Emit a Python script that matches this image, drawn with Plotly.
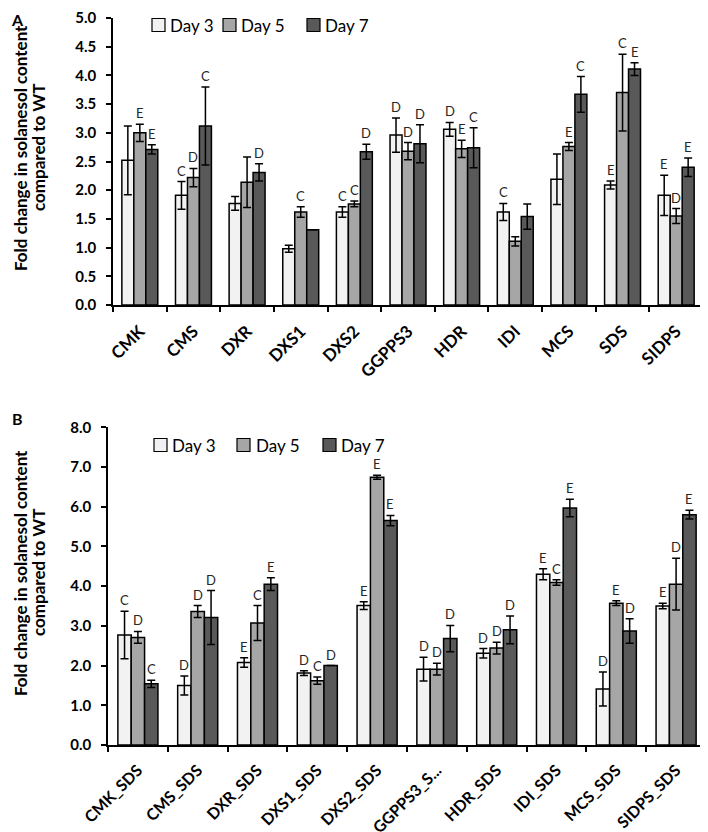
import plotly.graph_objects as go

# ---------------- Data ----------------
series_names = ["Day 3", "Day 5", "Day 7"]
series_colors = ["#F2F2F2", "#A6A6A6", "#595959"]

cats_a = ["CMK", "CMS", "DXR", "DXS1", "DXS2", "GGPPS3", "HDR", "IDI", "MCS", "SDS", "SIDPS"]
day3_a = [2.52, 1.91, 1.77, 0.98, 1.62, 2.96, 3.06, 1.62, 2.19, 2.09, 1.91]
day5_a = [3.00, 2.22, 2.14, 1.62, 1.76, 2.68, 2.72, 1.11, 2.76, 3.70, 1.55]
day7_a = [2.71, 3.12, 2.31, 1.31, 2.67, 2.81, 2.74, 1.54, 3.67, 4.11, 2.40]
err3_a = [0.60, 0.24, 0.12, 0.06, 0.09, 0.30, 0.12, 0.15, 0.44, 0.07, 0.35]
err5_a = [0.15, 0.16, 0.44, 0.09, 0.05, 0.15, 0.15, 0.08, 0.07, 0.67, 0.13]
err7_a = [0.08, 0.68, 0.15, 0.00, 0.13, 0.33, 0.35, 0.22, 0.31, 0.11, 0.16]
lab3_a = ["", "C", "", "", "C", "D", "D", "C", "", "E", "E"]
lab5_a = ["E", "D", "", "C", "C", "D", "E", "", "E", "C", "D"]
lab7_a = ["E", "C", "D", "", "D", "D", "C", "", "C", "E", "E"]

cats_b = ["CMK_SDS", "CMS_SDS", "DXR_SDS", "DXS1_SDS", "DXS2_SDS", "GGPPS3_S...",
          "HDR_SDS", "IDI_SDS", "MCS_SDS", "SIDPS_SDS"]
day3_b = [2.77, 1.50, 2.08, 1.81, 3.51, 1.91, 2.31, 4.30, 1.41, 3.50]
day5_b = [2.71, 3.36, 3.07, 1.62, 6.74, 1.91, 2.44, 4.09, 3.57, 4.05]
day7_b = [1.54, 3.21, 4.05, 2.00, 5.65, 2.68, 2.90, 5.97, 2.87, 5.80]
err3_b = [0.60, 0.24, 0.12, 0.06, 0.10, 0.30, 0.12, 0.14, 0.43, 0.07]
err5_b = [0.15, 0.15, 0.44, 0.09, 0.05, 0.15, 0.15, 0.07, 0.06, 0.65]
err7_b = [0.09, 0.68, 0.16, 0.00, 0.13, 0.33, 0.35, 0.22, 0.31, 0.11]
lab3_b = ["C", "D", "E", "D", "E", "D", "D", "E", "D", "E"]
lab5_b = ["D", "D", "C", "C", "E", "D", "D", "C", "E", "D"]
lab7_b = ["C", "D", "E", "D", "E", "D", "D", "E", "D", "E"]

yticks_a = [0, 0.5, 1, 1.5, 2, 2.5, 3, 3.5, 4, 4.5, 5]
yticks_b = [0, 1, 2, 3, 4, 5, 6, 7, 8]
ytitle_lines = ["Fold change in solanesol content", "compared to WT"]

FONT = "Lato"
BARGAP = 0.33
W, H = 700, 824   # page body has an 8px margin, so the figure is 700x824 in a 708x832 window


def px(x):
    return x / W


def py(y):
    return 1 - y / H


fig = go.Figure()

panels = [
    dict(cats=cats_a, vals=[day3_a, day5_a, day7_a], errs=[err3_a, err5_a, err7_a],
         labs=[lab3_a, lab5_a, lab7_a], xa="x", ya="y"),
    dict(cats=cats_b, vals=[day3_b, day5_b, day7_b], errs=[err3_b, err5_b, err7_b],
         labs=[lab3_b, lab5_b, lab7_b], xa="x2", ya="y2"),
]

bw = (1 - BARGAP) / 3
for p in panels:
    for j in range(3):
        fig.add_trace(go.Bar(
            x=p["cats"], y=p["vals"][j], name=series_names[j], showlegend=False,
            marker=dict(color=series_colors[j], line=dict(color="black", width=1.5)),
            error_y=dict(type="data", array=p["errs"][j], visible=True,
                         color="black", thickness=1.5, width=4),
            xaxis=p["xa"], yaxis=p["ya"], offsetgroup=str(j),
        ))
        for i in range(len(p["cats"])):
            t = p["labs"][j][i]
            if not t:
                continue
            fig.add_annotation(
                x=i + (j - 1) * bw, y=p["vals"][j][i] + p["errs"][j][i],
                xref=p["xa"], yref=p["ya"], text=t, showarrow=False,
                yanchor="bottom", yshift=1,
                font=dict(family=FONT, size=13, color="#262626"),
            )

axis_common = dict(showline=True, linecolor="black", linewidth=1.5,
                   showgrid=False, zeroline=False, ticks="outside",
                   tickcolor="black", tickwidth=1.5, ticklen=5, automargin=False,
                   ticklabeloverflow="allow")

fig.update_layout(
    width=W, height=H,
    margin=dict(l=0, r=0, t=0, b=0, autoexpand=False),
    paper_bgcolor="white", plot_bgcolor="white",
    barmode="group", bargap=BARGAP, bargroupgap=0,
    font=dict(family=FONT, color="black"),
    showlegend=False,
    xaxis=dict(domain=[px(105), px(695)], anchor="y", type="category",
               tickson="boundaries", tickangle=-45, ticklabelstandoff=8,
               tickfont=dict(family=FONT, size=17, weight="bold"), **axis_common),
    yaxis=dict(domain=[py(297), py(10)], anchor="x", range=[0, 5],
               tickvals=yticks_a, tickformat=".1f", ticklabelstandoff=7,
               tickfont=dict(family=FONT, size=15, weight="bold"), **axis_common),
    xaxis2=dict(domain=[px(100), px(698)], anchor="y2", type="category",
                tickson="boundaries", tickangle=-45, ticklabelstandoff=8,
                tickfont=dict(family=FONT, size=16, weight="bold"), **axis_common),
    yaxis2=dict(domain=[py(737), py(419.3)], anchor="x2", range=[0, 8],
                tickvals=yticks_b, tickformat=".1f", ticklabelstandoff=7,
                tickfont=dict(family=FONT, size=15, weight="bold"), **axis_common),
)

# manual legends (square swatch + label), one per panel
legend_specs = [
    dict(sq=[144, 215, 299], tx=[160, 231, 315], yc=17),
    dict(sq=[146, 229, 315], tx=[162, 246, 331], yc=437),
]
for spec in legend_specs:
    for j in range(3):
        x0 = spec["sq"][j]
        fig.add_shape(type="rect", xref="paper", yref="paper",
                      x0=px(x0), x1=px(x0 + 13), y0=py(spec["yc"] + 6.5), y1=py(spec["yc"] - 6.5),
                      fillcolor=series_colors[j], line=dict(color="black", width=1.2))
        fig.add_annotation(x=px(spec["tx"][j]), y=py(spec["yc"]), xref="paper", yref="paper",
                           text=series_names[j], showarrow=False, xanchor="left",
                           yanchor="middle", font=dict(family=FONT, size=17, color="black"))

# y-axis titles (two rotated lines each)
for yc in [140, 565]:
    for k, xl in enumerate([12, 30]):
        fig.add_annotation(x=px(xl), y=py(yc), xref="paper", yref="paper",
                           text=ytitle_lines[k], textangle=-90, showarrow=False,
                           font=dict(family=FONT, size=17, weight="bold"),
                           xanchor="center", yanchor="middle")

for txt, yy in [("A", 11), ("B", 410)]:
    fig.add_annotation(x=px(9), y=py(yy), xref="paper", yref="paper",
                       text=txt, showarrow=False,
                       font=dict(family=FONT, size=16, weight="bold"),
                       xanchor="center", yanchor="middle")

fig.write_html("out.html")
